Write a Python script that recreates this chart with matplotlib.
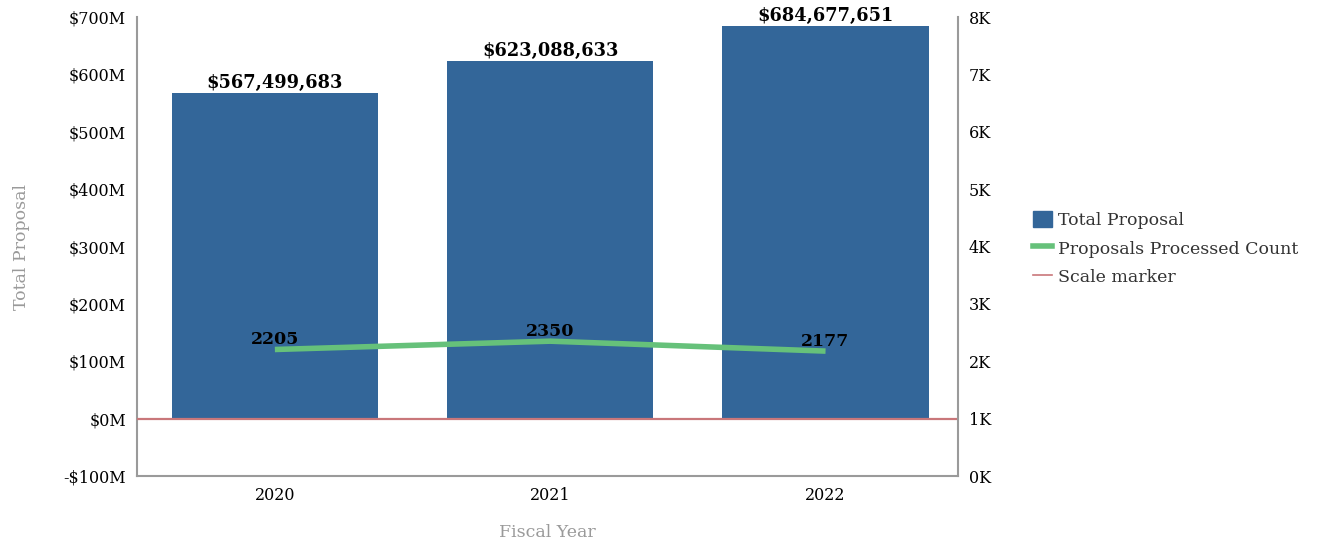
import matplotlib
matplotlib.use("Agg")
import matplotlib.pyplot as plt
from matplotlib.ticker import FuncFormatter
from matplotlib.lines import Line2D
from matplotlib.patches import Patch

plt.rcParams["font.family"] = ["DejaVu Serif"]

BAR = "#336699"
GREEN = "#66c17a"
MARKER = "#c9777a"
GREY = "#9a9a9a"

years = ["2020", "2021", "2022"]
total_proposal = [567499683, 623088633, 684677651]
processed_count = [2205, 2350, 2177]
scale_marker = 0

fig = plt.figure(figsize=(13.32, 5.4), dpi=100)
ax = fig.add_axes([0.103, 0.1185, 0.616, 0.85])
x = list(range(len(years)))

ax.bar(x, total_proposal, width=0.75, color=BAR, zorder=2)
ax.axhline(scale_marker, color=MARKER, lw=1.6, zorder=3)
for xi, v in zip(x, total_proposal):
    ax.text(xi, v + 2e6, f"${v:,}", ha="center", va="bottom",
            fontsize=12.8, fontweight="bold", color="black")

ax.set_ylim(-100e6, 700e6)
ax.set_yticks([i * 100e6 for i in range(-1, 8)])
ax.yaxis.set_major_formatter(FuncFormatter(
    lambda v, p: f"-${abs(v)/1e6:.0f}M" if v < 0 else f"${v/1e6:.0f}M"))
ax.set_xlim(-0.5, 2.48)
ax.set_xticks(x)
ax.set_xticklabels(years)
ax.tick_params(length=0, labelsize=11.5, colors="black", pad=8)
ax.set_ylabel("Total Proposal", fontsize=12.5, color=GREY, labelpad=24)
ax.set_xlabel("Fiscal Year", fontsize=12.5, color=GREY, labelpad=14)
for s in ["top", "right"]:
    ax.spines[s].set_visible(False)
for s in ["left", "bottom"]:
    ax.spines[s].set_color(GREY)
    ax.spines[s].set_linewidth(1.5)

ax2 = ax.twinx()
ax2.plot(x, processed_count, color=GREEN, lw=4, solid_capstyle="butt", zorder=4)
for xi, v in zip(x, processed_count):
    ax2.text(xi, v + 20, f"{v}", ha="center", va="bottom",
             fontsize=12.5, fontweight="bold", color="black")
ax2.set_ylim(0, 8000)
ax2.set_yticks([i * 1000 for i in range(9)])
ax2.yaxis.set_major_formatter(FuncFormatter(lambda v, p: f"{v/1000:.0f}K"))
ax2.tick_params(length=0, labelsize=11.5, colors="black", pad=8)
for s in ["top", "left", "bottom"]:
    ax2.spines[s].set_visible(False)
ax2.spines["right"].set_color(GREY)
ax2.spines["right"].set_linewidth(1.5)

handles = [Patch(color=BAR),
           Line2D([], [], color=GREEN, lw=4),
           Line2D([], [], color=MARKER, lw=1.2)]
labels = ["Total Proposal", "Proposals Processed Count", "Scale marker"]
fig.legend(handles, labels, loc="center left", bbox_to_anchor=(0.764, 0.54),
           frameon=False, fontsize=12.5, handlelength=1.1, handleheight=1.1,
           handletextpad=0.3, labelspacing=0.6, labelcolor="#333333")

fig.savefig("out.png", dpi=100)
